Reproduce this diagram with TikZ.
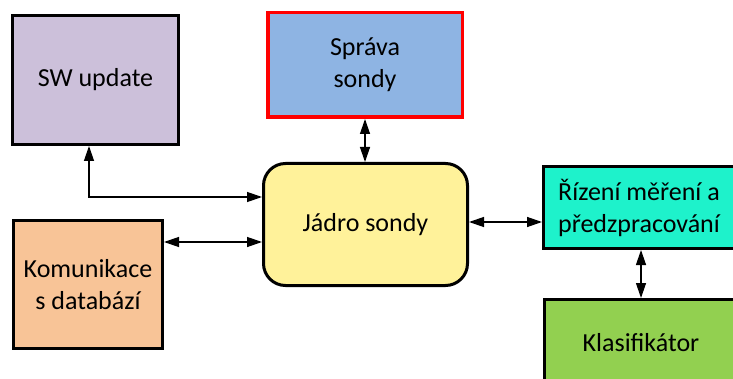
\documentclass[tikz,border=0pt]{standalone}
\usepackage{fontspec}
\setmainfont{Carlito}
\usetikzlibrary{arrows.meta}
\definecolor{swfill}{HTML}{CCC0DA}
\definecolor{sprfill}{HTML}{8EB4E3}
\definecolor{jadfill}{HTML}{FFF29A}
\definecolor{komfill}{HTML}{F8C497}
\definecolor{rizfill}{HTML}{1EF2CB}
\definecolor{klafill}{HTML}{92D050}
\begin{document}
\begin{tikzpicture}[x=1pt,y=1pt,
  block/.style={draw=black, line width=3pt, align=center, inner sep=0pt,
    font=\fontsize{26}{32}\selectfont},
  link/.style={line width=1.3pt, {Triangle[length=15pt,width=10pt]}-{Triangle[length=15pt,width=10pt]}}]
\useasboundingbox (0,0) rectangle (733,378);
\clip (0,0) rectangle (733,378);
% modules
\node[block, fill=swfill, minimum width=166pt, minimum height=129pt] (sw) at (95.5,298) {SW update};
\node[block, fill=sprfill, draw=red, line width=3.5pt, minimum width=194.5pt, minimum height=104.5pt] (spr) at (365,313) {Správa\\sondy};
\node[block, fill=jadfill, rounded corners=22pt, minimum width=204pt, minimum height=122pt] (jad) at (365.5,153.5) {Jádro sondy};
\node[block, fill=komfill, minimum width=149pt, minimum height=128pt] (kom) at (88,93.5) {Komunikace\\s databází};
\node[block, fill=rizfill, minimum width=191pt, minimum height=82pt] (riz) at (639,170.5) {Řízení měření a\\předzpracování};
\node[block, fill=klafill, minimum width=193pt, minimum height=87pt] (kla) at (641,35) {Klasifikátor};
% connections
\draw[link] ([xshift=-6.5pt]sw.south) |- ([yshift=27.5pt]jad.west);
\draw[link] ([yshift=42.5pt]kom.east) -- ([yshift=42.5pt]kom.east -| jad.west);
\draw[link] (spr.south) -- (spr.south |- jad.north);
\draw[link] ([yshift=2.5pt]jad.east) -- ([yshift=2.5pt]jad.east -| riz.west);
\draw[link] (kla.north |- riz.south) -- (kla.north);
\end{tikzpicture}
\end{document}
